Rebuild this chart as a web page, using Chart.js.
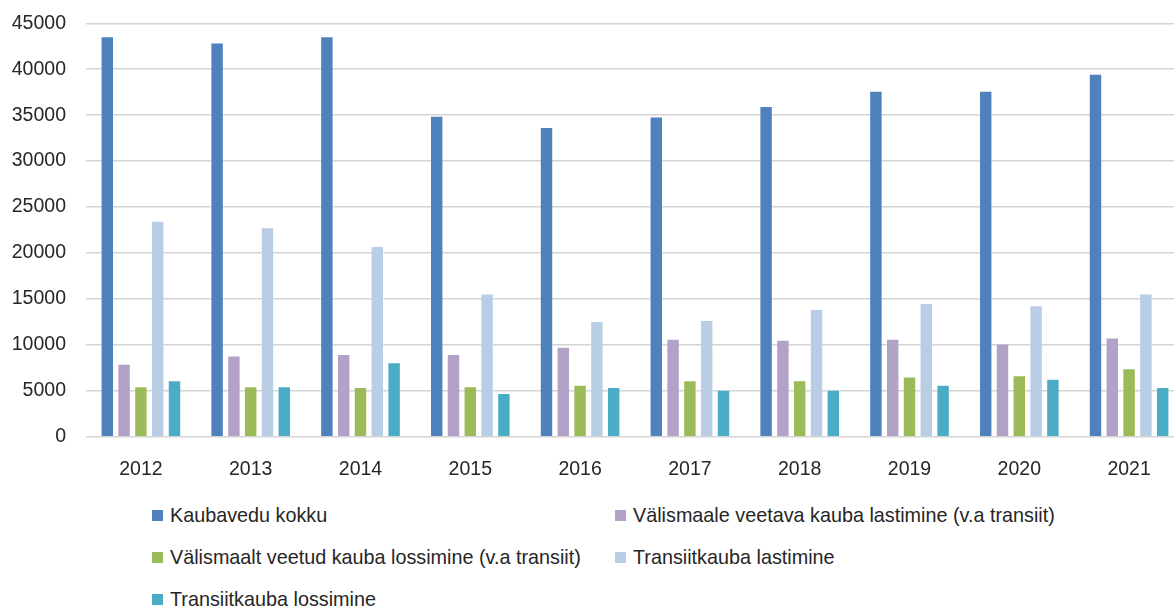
<!DOCTYPE html>
<html>
<head>
<meta charset="utf-8">
<script src="https://cdn.jsdelivr.net/npm/chart.js@4"></script>
<style>
  html, body { margin: 0; padding: 0; background: #fff; overflow: hidden; }
  body { width: 1174px; height: 608px; position: relative; }
  #wrap { position: absolute; left: 0; top: 0; width: 1190px; height: 490px; }
  #legend { position: absolute; left: 152px; top: 503px; width: 1000px;
            display: grid; grid-template-columns: 463px auto; row-gap: 17px;
            font-family: "Liberation Sans", Arial, sans-serif; font-size: 19.8px; color: #262626; }
  .item { display: flex; align-items: center; height: 25px; white-space: nowrap; }
  .box { width: 11px; height: 11px; margin-right: 7px; flex: none; }
</style>
</head>
<body>
<div id="wrap"><canvas id="myChart"></canvas></div>
<div id="legend"></div>
<script>
// andmed (tuhat tonni) loetud pildilt
const aastad = ['2012', '2013', '2014', '2015', '2016', '2017', '2018', '2019', '2020', '2021']
const kaubaveduKokku = [43600, 42900, 43600, 34950, 33700, 34850, 36000, 37650, 37650, 39500]
const valismaaleLastimine = [7950, 8850, 9000, 9000, 9800, 10650, 10550, 10650, 10150, 10800]
const valismaaltLossimine = [5500, 5500, 5400, 5500, 5650, 6150, 6150, 6550, 6700, 7450]
const transiitLastimine = [23500, 22800, 20750, 15600, 12600, 12700, 13900, 14550, 14300, 15600]
const transiitLossimine = [6150, 5500, 8100, 4750, 5400, 5100, 5100, 5650, 6300, 5400]
const yTicks = [0, 5000, 10000, 15000, 20000, 25000, 30000, 35000, 40000, 45000]

const seeriad = [
    { label: 'Kaubavedu kokku', data: kaubaveduKokku, color: '#4F81BD' },
    { label: 'Välismaale veetava kauba lastimine (v.a transiit)', data: valismaaleLastimine, color: '#B3A2C7' },
    { label: 'Välismaalt veetud kauba lossimine (v.a transiit)', data: valismaaltLossimine, color: '#9BBB59' },
    { label: 'Transiitkauba lastimine', data: transiitLastimine, color: '#B9CDE5' },
    { label: 'Transiitkauba lossimine', data: transiitLossimine, color: '#4BACC6' }
]

const fontTicks = { family: '"Liberation Sans", Arial, sans-serif', size: 19.5 }

const ctx = document.querySelector('#myChart').getContext('2d')
const myChart = new Chart(ctx, {
    type: 'bar',
    data: {
        labels: aastad,
        datasets: seeriad.map(s => ({
            label: s.label,
            data: s.data,
            backgroundColor: s.color,
            borderColor: 'rgba(255, 255, 255, 0.25)',
            borderWidth: 1,
            categoryPercentage: 0.765,
            barPercentage: 0.8
        }))
    },
    options: {
        responsive: true,
        maintainAspectRatio: false,
        animation: false,
        layout: { padding: { top: 23.3, right: 6, left: 0, bottom: 0 } },
        plugins: {
            legend: { display: false },
            tooltip: { enabled: false }
        },
        scales: {
            x: {
                grid: { display: false, drawTicks: false },
                border: { display: false },
                ticks: { font: fontTicks, color: '#262626', padding: 21, maxRotation: 0 },
                afterFit: scale => { scale.height = 53.3 }
            },
            y: {
                min: 0,
                max: 45000,
                afterBuildTicks: scale => { scale.ticks = yTicks.map(v => ({ value: v })) },
                grid: { color: '#d4d4d4', lineWidth: 1.6, drawTicks: false },
                border: { display: false },
                ticks: { font: fontTicks, color: '#262626', padding: 20, callback: v => String(v) },
                afterFit: scale => { scale.width = 86; scale.paddingTop = 0 }
            }
        }
    }
})

// legend, Exceli moodi kahes veerus
const legendSelector = document.querySelector('#legend')
seeriad.forEach(s => {
    const item = document.createElement('div')
    item.className = 'item'
    item.innerHTML = `<span class="box" style="background:${s.color}"></span><span>${s.label}</span>`
    legendSelector.appendChild(item)
})
</script>
</body>
</html>
